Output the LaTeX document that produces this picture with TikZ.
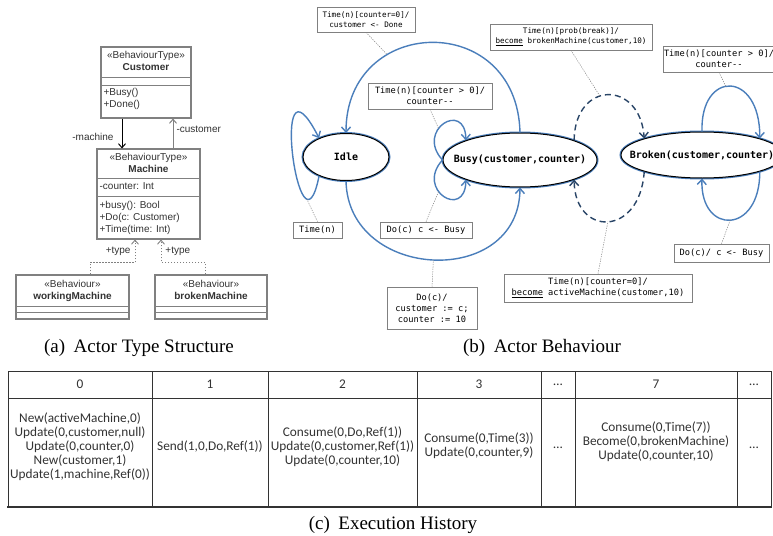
\documentclass[tikz,border=0pt]{standalone}
\usepackage{fontspec}
\setmainfont{Liberation Serif}
\newfontfamily\capfont{Liberation Serif}
\newfontfamily\umlfont{Liberation Sans}
\newfontfamily\codefont[Ligatures=TeXOff]{DejaVu Sans Mono}
\newfontfamily\tabfont{Carlito}
\usetikzlibrary{arrows.meta,positioning,shapes.geometric}

\definecolor{stateblue}{HTML}{4A7EBB}
\definecolor{umlgray}{HTML}{808080}
\definecolor{inkgray}{HTML}{333333}

\begin{document}
\begin{tikzpicture}[x=1pt, y=-1pt]
  \path[use as bounding box, fill=white] (0,0) rectangle (773,535);
  \tikzset{ClassBox/.style = {draw=umlgray, line width=1.1pt, inner sep=0pt},
    ClassLine/.style = {draw=umlgray, line width=1.1pt},
    ClassText/.style = {font=\umlfont\fontsize{10}{12}\selectfont, text=inkgray,
      inner sep=0pt, align=center},
    MemberText/.style = {ClassText, align=left, anchor=north west},
    RoleText/.style = {font=\umlfont\fontsize{10}{12}\selectfont, text=inkgray, inner sep=2pt},
    Assoc/.style = {line width=1pt, -{Straight Barb[length=4pt,width=7pt]}},
    Realize/.style = {draw=umlgray, line width=0.9pt, dash pattern=on 1.5pt off 1.5pt,
      -{Straight Barb[length=4pt,width=7pt]}},
    State/.style = {ellipse, draw=black, line width=1pt, fill=white, inner sep=0pt,
      preaction={draw=stateblue, line width=3pt},
      font=\codefont\bfseries\fontsize{10}{12}\selectfont},
    Trans/.style = {draw=stateblue, line width=1.4pt, -{Straight Barb[length=5pt,width=9pt]}},
    Swap/.style = {Trans, draw=stateblue!55!black, dash pattern=on 6pt off 4pt},
    Note/.style = {draw=umlgray, line width=0.6pt, fill=white, align=center, inner sep=0pt,
      font=\codefont\fontsize{8.7}{11}\selectfont},
    SmallNote/.style = {Note, font=\codefont\fontsize{7.6}{10}\selectfont},
    Anchor/.style = {draw=gray, line width=0.5pt, dash pattern=on 1.2pt off 1.2pt},
    TableLine/.style = {draw=inkgray, line width=0.8pt},
    Cell/.style = {font=\tabfont\fontsize{13.3}{14}\selectfont, text=inkgray, align=center,
      inner sep=0pt},
    Caption/.style = {font=\capfont\fontsize{19}{22}\selectfont, inner sep=0pt}}

  \node[ClassBox, minimum width=90pt, minimum height=71pt] (Cust) at (146,82.5) {};
  \draw[ClassLine] ([yshift=-31pt]Cust.north west) -- ([yshift=-31pt]Cust.north east)
    ([yshift=-39pt]Cust.north west) -- ([yshift=-39pt]Cust.north east);
  \node[ClassText, below=5pt of Cust.north] (CustName) {«BehaviourType»\\\textbf{Customer}};
  \node[MemberText] (CustOps) at ([xshift=3pt,yshift=-42pt]Cust.north west) {+Busy()\\+Done()};

  \node[ClassBox, minimum width=103pt, minimum height=90pt] (Mach) at (148.5,194) {};
  \draw[ClassLine] ([yshift=-30pt]Mach.north west) -- ([yshift=-30pt]Mach.north east)
    ([yshift=-48pt]Mach.north west) -- ([yshift=-48pt]Mach.north east);
  \node[ClassText, below=5pt of Mach.north] (MachName) {«BehaviourType»\\\textbf{Machine}};
  \node[MemberText] (MachAttr) at ([xshift=3pt,yshift=-34pt]Mach.north west) {-counter: Int};
  \node[MemberText] (MachOps) at ([xshift=3pt,yshift=-53pt]Mach.north west)
    {+busy(): Bool\\+Do(c: Customer)\\+Time(time: Int)};

  \node[ClassBox, minimum width=113pt, minimum height=44pt] (Work) at (72.5,297) {};
  \draw[ClassLine] ([yshift=-32pt]Work.north west) -- ([yshift=-32pt]Work.north east)
    ([yshift=-38pt]Work.north west) -- ([yshift=-38pt]Work.north east);
  \node[ClassText, below=6pt of Work.north] (WorkName) {«Behaviour»\\\textbf{workingMachine}};

  \node[ClassBox, minimum width=112pt, minimum height=44pt] (Brok) at (211,297) {};
  \draw[ClassLine] ([yshift=-32pt]Brok.north west) -- ([yshift=-32pt]Brok.north east)
    ([yshift=-38pt]Brok.north west) -- ([yshift=-38pt]Brok.north east);
  \node[ClassText, below=6pt of Brok.north] (BrokName) {«Behaviour»\\\textbf{brokenMachine}};

  \draw[Assoc, draw=black] ([xshift=-24pt]Cust.south) -- ([xshift=-24pt]Cust.south |- Mach.north)
    node[RoleText, pos=0.6, left=6pt] (MachRole) {-machine};
  \draw[Assoc, draw=umlgray] ([xshift=24.5pt]Mach.north) -- ([xshift=24.5pt]Mach.north |- Cust.south)
    node[RoleText, pos=0.65, right=1pt] (CustRole) {-customer};
  \draw[Realize] ([xshift=17.5pt]Work.north) -- ++(0,-12) -| ([xshift=-13.5pt]Mach.south)
    node[RoleText, pos=0.75, left=2pt] (WorkRole) {+type};
  \draw[Realize] ([xshift=-6pt]Brok.north) -- ++(0,-12) -| ([xshift=12.5pt]Mach.south)
    node[RoleText, pos=0.75, right=2pt] (BrokRole) {+type};

  \node[State, minimum width=86pt, minimum height=47pt] (Idle) at (346,157) {\makebox[0pt]{Idle}};
  \node[State, minimum width=154pt, minimum height=54pt] (Busy) at (520,160)
    {\makebox[0pt]{Busy(customer,counter)}};
  \node[State, minimum width=162pt, minimum height=46pt] (Broken) at (702,155)
    {\makebox[0pt]{Broken(customer,counter)}};

  \draw[Trans] (Busy.north) .. controls (517,10) and (346,15) .. (Idle.north)
    coordinate[pos=0.68] (DoneArc);
  \draw[Trans] (Idle.south) .. controls (348,281) and (519,289) .. (Busy.south)
    coordinate[pos=0.5] (HireArc);
  \draw[Trans] (Idle.215) .. controls (300,272) and (268,38) .. (Idle.145)
    coordinate[pos=0.2] (TickArc);
  \draw[Trans] (Busy.west) .. controls (415,130) and (465,100) .. (Busy.160)
    coordinate[pos=0.4] (CountArc);
  \draw[Trans] (Busy.west) .. controls (415,190) and (465,220) .. (Busy.200)
    coordinate[pos=0.4] (BusyArc);
  \draw[Swap] (Busy.20) .. controls (575,80) and (640,80) .. (Broken.164)
    coordinate[pos=0.42] (BreakArc);
  \draw[Swap] (Broken.196) .. controls (640,237) and (575,237) .. (Busy.340)
    coordinate[pos=0.5] (FixArc);
  \draw[Trans] (Broken.north) .. controls (700,70) and (760,70) .. (Broken.16)
    coordinate[pos=0.45] (WaitArc);
  \draw[Trans] (Broken.344) .. controls (760,235) and (700,235) .. (Broken.south)
    coordinate[pos=0.5] (RefuseArc);

  \node[SmallNote, minimum width=98pt, minimum height=25pt] (DoneNote) at (366,19.5)
    {Time(n)[counter=0]/\\customer <- Done};
  \node[Note, minimum width=124pt, minimum height=26pt] (CountNote) at (430,96)
    {Time(n)[counter > 0]/\\counter--};
  \node[Note, minimum width=49pt, minimum height=16pt] (TickNote) at (317.5,230) {Time(n)};
  \node[Note, minimum width=92pt, minimum height=16pt] (BusyNote) at (426,230) {Do(c) c <- Busy};
  \node[Note, minimum width=90pt, minimum height=42pt] (HireNote) at (432,308)
    {Do(c)/\\customer := c;\\counter := 10};
  \node[SmallNote, minimum width=162pt, minimum height=26pt] (BreakNote) at (571,37)
    {Time(n)[prob(break)]/\\\underline{become} brokenMachine(customer,10)};
  \node[Note, minimum width=188pt, minimum height=28pt] (FixNote) at (598,288)
    {Time(n)[counter=0]/\\\underline{become} activeMachine(customer,10)};
  \node[Note, minimum width=112pt, minimum height=26pt] (WaitNote) at (719,59)
    {Time(n)[counter > 0]/\\counter--};
  \node[Note, minimum width=95pt, minimum height=18pt] (RefuseNote) at (721.5,253)
    {Do(c)/ c <- Busy};

  \draw[Anchor] (DoneNote.south) -- (DoneArc);
  \draw[Anchor] (CountNote.south) -- (CountArc);
  \draw[Anchor] (TickNote.north) -- (TickArc);
  \draw[Anchor] (BusyNote.north) -- (BusyArc);
  \draw[Anchor] (HireNote.north) -- (HireArc);
  \draw[Anchor] (BreakNote.south) -- (BreakArc);
  \draw[Anchor] (FixNote.north) -- (FixArc);
  \draw[Anchor] (WaitNote.south) -- (WaitArc);
  \draw[Anchor] (RefuseNote.north) -- (RefuseArc);
  \draw[umlgray, line width=1.6pt] (HireNote.south west) -- (HireNote.south east);

  \draw[TableLine] (8,507) -- (8,371) -- (771,371) -- (771,507);
  \draw[TableLine] (8,398) -- (771,398);
  \draw[TableLine, line width=1.8pt] (7.1,507) -- (771.9,507);
  \foreach \x in {152,268,417,541,575,737}
    \draw[TableLine] (\x,371) -- (\x,507);
  \foreach \x/\lbl [count=\i] in {80/0, 210/1, 342.5/2, 479/3, 558/{\ldots}, 656/7, 754/{\ldots}}
    \node[Cell] (Head\i) at (\x,384.5) {\lbl};

  \node[Cell] (Step0) at (80,447) {New(activeMachine,0)\\Update(0,customer,null)\\Update(0,counter,0)\\New(customer,1)\\Update(1,machine,Ref(0))};
  \node[Cell] (Step1) at (210,447) {Send(1,0,Do,Ref(1))};
  \node[Cell] (Step2) at (342.5,447) {Consume(0,Do,Ref(1))\\Update(0,customer,Ref(1))\\Update(0,counter,10)};
  \node[Cell] (Step3) at (479,446) {Consume(0,Time(3))\\Update(0,counter,9)};
  \node[Cell] (Gap1) at (558,448) {\ldots};
  \node[Cell] (Step7) at (656,442) {Consume(0,Time(7))\\Become(0,brokenMachine)\\Update(0,counter,10)};
  \node[Cell] (Gap2) at (754,448) {\ldots};

  \node[Caption] (CapA) at (139,347.5) {(a)\hspace{0.45em}Actor Type Structure};
  \node[Caption] (CapB) at (542,347.5) {(b)\hspace{0.45em}Actor Behaviour};
  \node[Caption] (CapC) at (393,525) {(c)\hspace{0.45em}Execution History};
\end{tikzpicture}
\end{document}
